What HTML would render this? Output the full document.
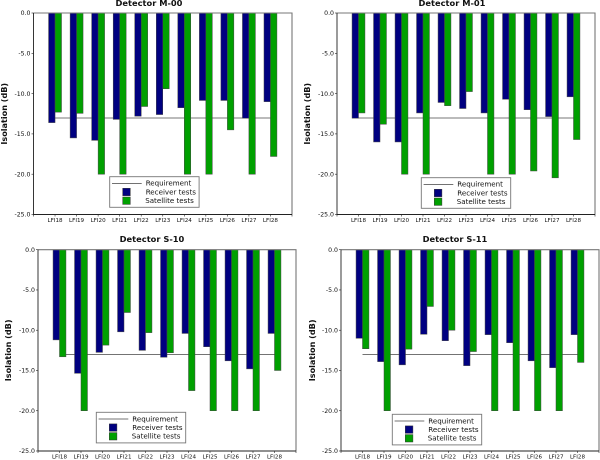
<!DOCTYPE html>
<html>
<head>
<meta charset="utf-8">
<style>
html,body{margin:0;padding:0;background:#fff;width:600px;height:460px;overflow:hidden}
svg{display:block;filter:blur(0.3px)}
text{font-family:"DejaVu Sans","Liberation Sans",sans-serif;fill:#111}
</style>
</head>
<body>
<svg id="chart" xmlns="http://www.w3.org/2000/svg" width="600" height="460" viewBox="0 0 600 460"></svg>
<script>
const categories = ["LFI18","LFI19","LFI20","LFI21","LFI22","LFI23","LFI24","LFI25","LFI26","LFI27","LFI28"];
const yTicks = [0, -5, -10, -15, -20, -25];
const yTickLabels = ["0.0","-5.0","-10.0","-15.0","-20.0","-25.0"];
const requirement = -13;

const receiverM00 = [-13.6,-15.5,-15.8,-13.2,-12.8,-12.6,-11.75,-10.85,-10.85,-13.05,-11.0];
const satelliteM00 = [-12.3,-12.45,-20,-20,-11.6,-9.4,-20,-20,-14.5,-20,-17.8];
const receiverM01 = [-13.05,-16,-16,-12.4,-11.1,-11.85,-12.4,-10.7,-12,-12.85,-10.4];
const satelliteM01 = [-12.4,-13.8,-20,-20,-11.5,-9.75,-20,-20,-19.6,-20.45,-15.7];
const receiverS10 = [-11.2,-15.35,-12.75,-10.2,-12.5,-13.35,-10.4,-12.05,-13.8,-14.8,-10.4];
const satelliteS10 = [-13.3,-20,-11.85,-7.8,-10.3,-12.8,-17.5,-20,-20,-20,-15.0];
const receiverS11 = [-11.0,-13.9,-14.3,-10.5,-11.3,-14.4,-10.55,-11.55,-13.8,-14.65,-10.55];
const satelliteS11 = [-12.3,-20,-12.35,-7.05,-10,-12.65,-20,-20,-20,-20,-14.0];

const panels = [
  {id:"m-00",title:"Detector M-00",receiver:receiverM00,satellite:satelliteM00,left:33.5,right:292,top:13,bottom:214.5,titleX:149,titleY:6,ylabelX:7,legendX:109.7,legendY:176.7,reqColor:"#777",reqWidth:1.1,reqShift:0.22},
  {id:"m-01",title:"Detector M-01",receiver:receiverM01,satellite:satelliteM01,left:337,right:595,top:13,bottom:214.5,titleX:452,titleY:6,ylabelX:310,legendX:421.3,legendY:177.7,reqColor:"#777",reqWidth:1.1,reqShift:0.22},
  {id:"s-10",title:"Detector S-10",receiver:receiverS10,satellite:satelliteS10,left:38,right:296,top:249.7,bottom:451,titleX:152,titleY:242,ylabelX:11,legendX:96.3,legendY:412.3,reqColor:"#444",reqWidth:0.8,reqShift:0.1},
  {id:"s-11",title:"Detector S-11",receiver:receiverS11,satellite:satelliteS11,left:341,right:599,top:249.7,bottom:451,titleX:455,titleY:242,ylabelX:315,legendX:392.3,legendY:414.3,reqColor:"#444",reqWidth:0.8,reqShift:0.1}
];

const NS = "http://www.w3.org/2000/svg";
const root = document.getElementById("chart");

function make(parent, tag, attrs, text) {
  const el = document.createElementNS(NS, tag);
  for (const k in attrs) el.setAttribute(k, attrs[k]);
  if (text !== undefined) el.textContent = text;
  parent.appendChild(el);
  return el;
}

panels.forEach(function (p) {
  const xScale = function (v) { return p.left + (p.right - p.left) * v / (categories.length + 1); };
  const yScale = function (v) { return p.top + (p.bottom - p.top) * (v / -25); };
  const barW = xScale(0.3) - xScale(0);

  const g = make(root, "g", {});
  
  

  make(g, "rect", {x:p.left,y:p.top,width:p.right-p.left,height:p.bottom-p.top,fill:"#fff"});

  const title = make(g, "text", {x:p.titleX,y:p.titleY,"text-anchor":"middle","font-size":"8.3","font-weight":"bold"}, p.title);
  
  

  const ymid = (p.top + p.bottom) / 2;
  const ylabel = make(g, "text", {x:p.ylabelX,y:ymid,"text-anchor":"middle","font-size":"8.1","font-weight":"bold",transform:"rotate(-90 "+p.ylabelX+" "+ymid+")"}, "Isolation (dB)");
  
  

  const req = make(g, "line", {x1:xScale(1),x2:xScale(categories.length),y1:yScale(requirement)+p.reqShift,y2:yScale(requirement)+p.reqShift,stroke:p.reqColor,"stroke-width":p.reqWidth});
  
  

  categories.forEach(function (cat, i) {
    const c = xScale(i + 1);
    const rv = p.receiver[i];
    const sv = p.satellite[i];
    const rb = make(g, "rect", {x:c-barW,y:yScale(0),width:barW,height:yScale(rv)-yScale(0),fill:"#000080",stroke:"#444","stroke-width":"0.5"});
    
    
    const sb = make(g, "rect", {x:c,y:yScale(0),width:barW,height:yScale(sv)-yScale(0),fill:"#00a000",stroke:"#444","stroke-width":"0.5"});
    
    

    make(g, "line", {x1:c,x2:c,y1:p.bottom,y2:p.bottom+2,stroke:"#222","stroke-width":"0.6"});
    const xl = make(g, "text", {x:c,y:p.bottom+7.7,"text-anchor":"middle","font-size":"5.6"}, cat);
    
    
  });

  make(g, "line", {x1:xScale(0),x2:xScale(0),y1:p.bottom,y2:p.bottom+2,stroke:"#222","stroke-width":"0.6"});
  make(g, "line", {x1:xScale(categories.length+1),x2:xScale(categories.length+1),y1:p.bottom,y2:p.bottom+2,stroke:"#222","stroke-width":"0.6"});

  yTicks.forEach(function (t, i) {
    const y = yScale(t);
    make(g, "line", {x1:p.left-2,x2:p.left,y1:y,y2:y,stroke:"#222","stroke-width":"0.6"});
    const yl = make(g, "text", {x:p.left-3,y:y+2.2,"text-anchor":"end","font-size":"6.2"}, yTickLabels[i]);
    
    
  });

  const frameTop = make(g, "path", {d:"M"+p.left+" "+p.top+"H"+p.right+"V"+p.bottom,fill:"none",stroke:"#777","stroke-width":"1.1"});
  
  
  const frameLow = make(g, "path", {d:"M"+p.left+" "+p.top+"V"+p.bottom+"H"+p.right,fill:"none",stroke:"#222","stroke-width":"0.9"});
  
  

  const lg = make(g, "g", {transform:"translate("+p.legendX+" "+p.legendY+")"});
  
  
  make(lg, "rect", {x:0,y:0,width:89.4,height:30.6,fill:"#fff",stroke:"#777","stroke-width":"0.9"});
  make(lg, "line", {x1:2.3,x2:32,y1:6.7,y2:6.7,stroke:"#444","stroke-width":"0.7"});
  make(lg, "rect", {x:13,y:11.6,width:7.6,height:7.4,fill:"#000080",stroke:"#333","stroke-width":"0.5"});
  make(lg, "rect", {x:13,y:20.3,width:7.6,height:7.4,fill:"#00a000",stroke:"#333","stroke-width":"0.5"});
  make(lg, "text", {x:36,y:9,"font-size":"7.1"}, "Requirement");
  make(lg, "text", {x:36,y:17.7,"font-size":"7.1"}, "Receiver tests");
  make(lg, "text", {x:35.5,y:26.2,"font-size":"7.1"}, "Satellite tests");
});
</script>
</body>
</html>
